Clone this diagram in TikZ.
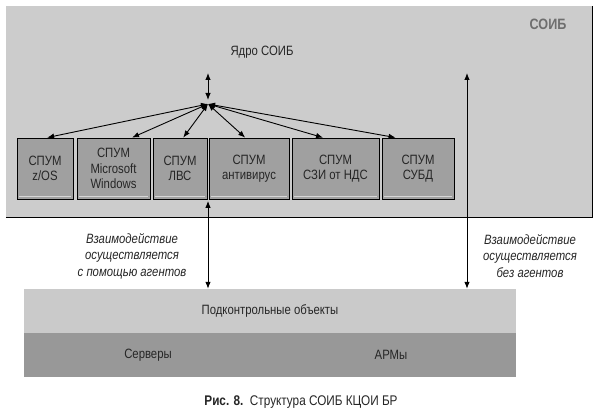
\documentclass[tikz,border=0pt]{standalone}
\usepackage{fontspec}
\setmainfont{Liberation Sans}[FakeStretch=0.84]
\usetikzlibrary{positioning,arrows,arrows.meta,calc}
\definecolor{soibgray}{HTML}{CCCCCC}
\definecolor{spumgray}{HTML}{A0A0A0}
\definecolor{bevel}{HTML}{D6D6D6}
\definecolor{objlight}{HTML}{CACACA}
\definecolor{objdark}{HTML}{989898}
\definecolor{txtgray}{HTML}{262626}
\definecolor{titlegray}{HTML}{6E6E6E}
\tikzset{
    spum/.style = {
        draw,
        shape=rectangle,
        fill=spumgray,
        minimum height=61pt,
        inner sep=0pt,
        align=center,
        line width=0.8pt,
        text=txtgray,
        font=\fontsize{13.5}{15.5}\selectfont
    },
    layer/.style = {
        shape=rectangle,
        minimum width=492pt,
        minimum height=44pt,
        inner sep=0pt
    },
    note/.style = {
        align=center,
        text=txtgray,
        font=\itshape\fontsize{13.5}{16.5}\selectfont
    },
    plain/.style = {
        text=txtgray,
        font=\fontsize{13.5}{15}\selectfont
    },
    >={Latex[length=7pt,width=5.5pt]},
}

\begin{document}
\begin{tikzpicture}[x=1pt,y=-1pt]
            \useasboundingbox[fill=white] (0,0) rectangle (598,414);

            \node[fill=soibgray, minimum width=586pt, minimum height=211pt, inner sep=0pt] (soib) at (299,111.5) {};
            \path[draw, line width=1pt] (soib.south west) -- (soib.south east) -- (soib.north east);
            \node[text=titlegray, font=\bfseries\fontsize{15}{16}\selectfont] (soibtitle) at (548,24) {СОИБ};
            \node[plain] (core) at (262,52) {Ядро СОИБ};

            \node[spum, minimum width=56pt] (zos) at (45,168.5) {СПУМ\\z/OS};
            \node[spum, minimum width=73pt] (win) at (113.5,168.5) {СПУМ\\Microsoft\\Windows};
            \node[spum, minimum width=54pt] (lvs) at (180,168.5) {СПУМ\\ЛВС};
            \node[spum, minimum width=80pt] (antivir) at (249,168.5) {СПУМ\\антивирус};
            \node[spum, minimum width=87pt] (szi) at (335.5,168.5) {СПУМ\\СЗИ от НДС};
            \node[spum, minimum width=72pt] (subd) at (418,168.5) {СПУМ\\СУБД};

            \node[layer, fill=objlight] (objects) at (270,311) {};
            \node[plain] at (objects) {Подконтрольные объекты};
            \node[layer, fill=objdark, below=0pt of objects] (hosts) {};
            \node[plain] (servers) at (148,355) {Серверы};
            \node[plain] (arm) at (391,355) {АРМы};

            \node[note] (agents) at (132,256) {Взаимодействие\\осуществляется\\с помощью агентов};
            \node[note] (noagents) at (530,256) {Взаимодействие\\осуществляется\\без агентов};

            \coordinate (hub) at (208,104);
            \coordinate (coretip) at (208,73);
            \coordinate (gap) at ($(lvs.south east)!0.5!(antivir.south west)$);
            \coordinate (freetip) at (467,73);

            % light inner line at the foot of each box
            \foreach \spm in {zos, win, lvs, antivir, szi, subd}
                \path[draw, color=bevel, line width=0.8pt] ([shift={(2pt,2.5pt)}]\spm.south west) -- ([shift={(-2pt,2.5pt)}]\spm.south east);

            \path[draw, line width=0.9pt, <->] (coretip) -- ([yshift=4pt]hub);
            \foreach \spm/\ang in {zos/86, win/59, lvs/84, antivir/97, szi/112, subd/126}
                \path[draw, line width=0.9pt, <->] (hub) -- (\spm.\ang);
            \path[draw, line width=0.9pt, <->] ([yshift=-1.5pt]gap) -- (gap |- objects.north);
            \path[draw, line width=0.9pt, <->] (freetip) -- (freetip |- objects.north);

            \node[text=txtgray, font=\fontsize{14}{16}\selectfont] (caption) at (301,402) {\textbf{Рис. 8.}\ \ Структура СОИБ КЦОИ БР};
        \end{tikzpicture}
\end{document}
